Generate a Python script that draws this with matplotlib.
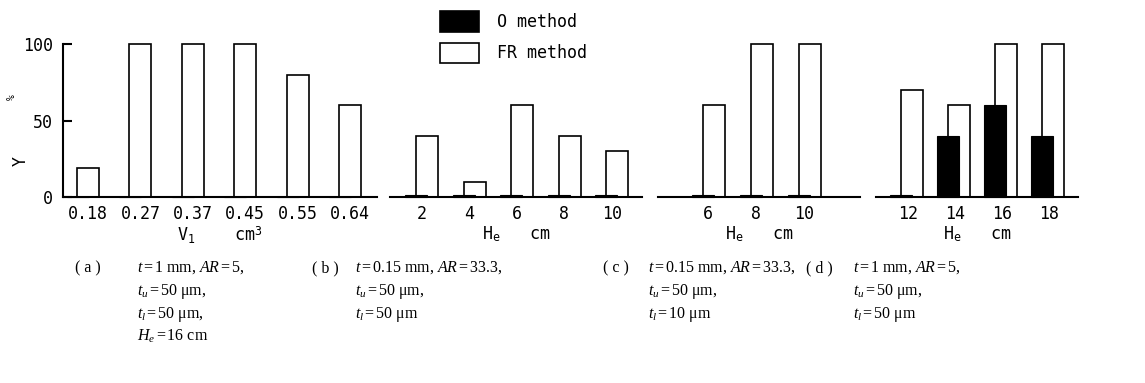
import matplotlib
matplotlib.use("Agg")
import matplotlib.pyplot as plt
from matplotlib.patches import Rectangle
import numpy as np

plt.rcParams['mathtext.fontset'] = 'custom'
plt.rcParams['mathtext.rm'] = 'Liberation Serif'
plt.rcParams['mathtext.it'] = 'Liberation Serif:italic'
plt.rcParams['mathtext.tt'] = 'DejaVu Sans Mono'

# ---- data ----
cats_a = ["0.18", "0.27", "0.37", "0.45", "0.55", "0.64"]
fr_a = [19, 100, 100, 100, 80, 60]
o_a = [0, 0, 0, 0, 0, 0]

cats_b = ["2", "4", "6", "8", "10"]
fr_b = [40, 10, 60, 40, 30]
o_b = [1, 1, 1, 1, 1]

cats_c = ["6", "8", "10"]
fr_c = [60, 100, 100]
o_c = [1, 1, 1]

cats_d = ["12", "14", "16", "18"]
fr_d = [70, 60, 100, 100]
o_d = [1, 40, 60, 40]

xlabels = [r"V$_\mathtt{1}$    cm$^\mathtt{3}$", r"H$_\mathtt{e}$   cm",
           r"H$_\mathtt{e}$   cm", r"H$_\mathtt{e}$   cm"]

captions = [
    ["( a )", r"$t$$\,$=$\,$1 mm, $AR$$\,$=$\,$5,", r"$t_u$$\,$=$\,$50 μm,", r"$t_l$$\,$=$\,$50 μm,", r"$H_e$$\,$=$\,$16 cm"],
    ["( b )", r"$t$$\,$=$\,$0.15 mm, $AR$$\,$=$\,$33.3,", r"$t_u$$\,$=$\,$50 μm,", r"$t_l$$\,$=$\,$50 μm"],
    ["( c )", r"$t$$\,$=$\,$0.15 mm, $AR$$\,$=$\,$33.3,", r"$t_u$$\,$=$\,$50 μm,", r"$t_l$$\,$=$\,$10 μm"],
    ["( d )", r"$t$$\,$=$\,$1 mm, $AR$$\,$=$\,$5,", r"$t_u$$\,$=$\,$50 μm,", r"$t_l$$\,$=$\,$50 μm"],
]

W, H = 1145, 383
fig = plt.figure(figsize=(W / 100, H / 100), dpi=100)
MONO = 'DejaVu Sans Mono'
SERIF = 'Liberation Serif'

def px_axes(left, right, top, bottom):
    return fig.add_axes([left / W, 1 - bottom / H, (right - left) / W, (bottom - top) / H])

# panel geometry in pixels: (left, right, first tick px, spacing px, fr_off px, o_off px)
panels = [
    (63, 377, 88, 52.4, 0, -10, cats_a, fr_a, o_a),
    (390, 642, 422, 47.5, 5, -6, cats_b, fr_b, o_b),
    (658, 860, 708, 48.0, 6, -5, cats_c, fr_c, o_c),
    (876, 1078, 908, 47.0, 4, -7, cats_d, fr_d, o_d),
]
BAR_PX = 22
for k, (l, r, t0, sp, fro, oo, cats, fr, o) in enumerate(panels):
    ax = px_axes(l, r, 44, 197)
    x = np.arange(len(cats))
    w = BAR_PX / sp
    ax.bar(x + fro / sp, fr, width=w, facecolor='white', edgecolor='black', linewidth=1.2, clip_on=False, zorder=2)
    ax.bar(x + oo / sp, o, width=w, facecolor='black', edgecolor='black', linewidth=0.8, clip_on=False, zorder=3)
    ax.set_xlim(-(t0 - l) / sp, (r - t0) / sp)
    ax.set_ylim(0, 100)
    ax.set_xticks(x)
    ax.set_xticklabels(cats, fontfamily=MONO, fontsize=12)
    ax.tick_params(axis='x', length=0, pad=6)
    ax.set_xlabel(xlabels[k], fontfamily=MONO, fontsize=12, labelpad=1)
    for s in ['top', 'right']:
        ax.spines[s].set_visible(False)
    ax.spines['bottom'].set_linewidth(1.5)
    if k == 0:
        ax.spines['left'].set_linewidth(1.5)
        ax.set_yticks([0, 50, 100])
        ax.set_yticklabels(["0", "50", "100"], fontfamily=MONO, fontsize=12)
        ax.tick_params(axis='y', direction='in', length=6.5, width=1.5, pad=7)
    else:
        ax.spines['left'].set_visible(False)
        ax.set_yticks([])

# y label
fig.text(21 / W, 1 - 161 / H, "Y", rotation=90, ha='center', va='center', fontfamily=MONO, fontsize=12)
fig.text(12 / W, 1 - 97 / H, "%", rotation=90, ha='center', va='center', fontfamily=MONO, fontsize=7)

# legend (manual)
fig.add_artist(Rectangle((440 / W, 1 - 32 / H), 39 / W, 21 / H, transform=fig.transFigure,
                         facecolor='black', edgecolor='black', linewidth=1.2))
fig.add_artist(Rectangle((440 / W, 1 - 63 / H), 39 / W, 20 / H, transform=fig.transFigure,
                         facecolor='white', edgecolor='black', linewidth=1.2))
fig.text(497 / W, 1 - 22 / H, "O method", ha='left', va='center', fontfamily=MONO, fontsize=12)
fig.text(497 / W, 1 - 53 / H, "FR method", ha='left', va='center', fontfamily=MONO, fontsize=12)

# captions
cap_pos = [(75, 137), (312, 355), (603, 648), (806, 853)]
rows = [272, 295, 318, 341]
for (lx, tx), cap in zip(cap_pos, captions):
    fig.text(lx / W, 1 - rows[0] / H, cap[0], ha='left', va='baseline', fontfamily=SERIF, fontsize=11.5)
    for i, line in enumerate(cap[1:]):
        fig.text(tx / W, 1 - rows[i] / H, line, ha='left', va='baseline', fontfamily=SERIF, fontsize=11.5)

fig.savefig("out.png", dpi=100)
